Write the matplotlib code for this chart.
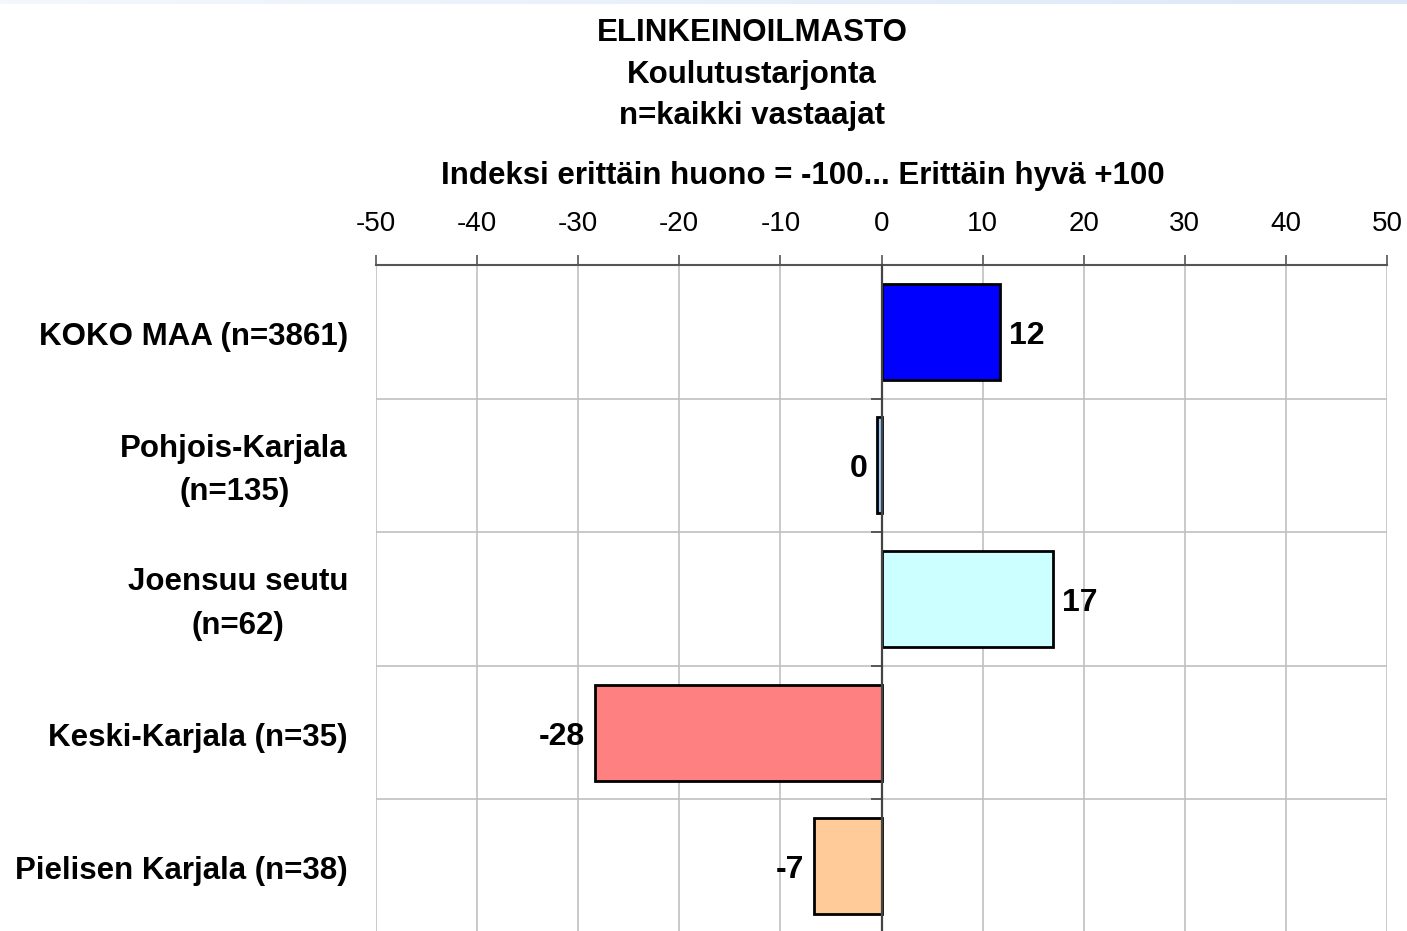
import numpy as np
import matplotlib
matplotlib.use("Agg")
import matplotlib.pyplot as plt
import matplotlib.transforms as mtransforms

plt.rcParams["font.family"] = ["Liberation Sans", "DejaVu Sans"]

# data
categories = [
    "KOKO MAA (n=3861)",
    "Pohjois-Karjala\n(n=135)",
    "Joensuu seutu\n(n=62)",
    "Keski-Karjala (n=35)",
    "Pielisen Karjala (n=38)",
]
values = [11.7, -0.4, 17.0, -28.3, -6.7]
value_labels = ["12", "0", "17", "-28", "-7"]
bar_colors = ["#0000FF", "#99CCFF", "#CCFFFF", "#FF8080", "#FFCC99"]
xticks = [-50, -40, -30, -20, -10, 0, 10, 20, 30, 40, 50]
title_lines = ["ELINKEINOILMASTO", "Koulutustarjonta", "n=kaikki vastaajat"]
axis_title = "Indeksi erittäin huono = -100... Erittäin hyvä +100"

W, H = 1407, 931
fig = plt.figure(figsize=(W / 100, H / 100), dpi=100)

# thin gradient band along the top edge
band = fig.add_axes([0, 1 - 4 / H, 1, 4 / H])
grad = np.linspace(0, 1, 256).reshape(1, -1)
band.imshow(grad, aspect="auto", cmap=matplotlib.colors.LinearSegmentedColormap.from_list(
    "band", ["#F4F8FD", "#DCE8F8"]))
band.axis("off")

ax = fig.add_axes([376 / W, -2 / H, (1387 - 376) / W, (931 - 265 + 2) / H])

y = np.arange(len(categories))
ax.barh(y, values, height=0.72, color=bar_colors, edgecolor="black", linewidth=2, zorder=3)

ax.set_xlim(-50, 50)
ax.set_ylim(len(categories) - 0.5, -0.5)

# x axis on top
ax.xaxis.tick_top()
ax.set_xticks(xticks)
ax.set_xticklabels([str(t) for t in xticks], fontsize=20)
ax.tick_params(axis="x", which="major", direction="out", length=7, width=1.2,
               color="#555555", pad=13)
ax.xaxis.grid(True, color="#C0C0C0", linewidth=1.2, zorder=0)

# category boundaries
ax.set_yticks(np.arange(len(categories) + 1) - 0.5, minor=True)
ax.set_yticks([])
ax.yaxis.grid(True, which="minor", color="#C0C0C0", linewidth=1.2, zorder=0)
ax.spines["left"].set_position(("data", 0))
ax.spines["left"].set_color("#444444")
ax.spines["left"].set_linewidth(1.6)
ax.spines["left"].set_zorder(4)
ax.tick_params(axis="y", which="minor", direction="out", length=8, width=1.2, color="#444444")
ax.spines["top"].set_color("#555555")
ax.spines["top"].set_linewidth(1.5)
ax.spines["right"].set_visible(False)
ax.spines["bottom"].set_visible(False)

# category labels at the left of the figure
trans = mtransforms.blended_transform_factory(fig.transFigure, ax.transData)
trans = mtransforms.offset_copy(trans, fig=fig, x=0, y=-5, units="dots")
for yi, cat in zip(y, categories):
    ax.text(348 / W, yi, cat, transform=trans, ha="right", va="center",
            fontsize=22.5, fontweight="bold", multialignment="center", linespacing=1.6)

# value labels
for yi, v, lab in zip(y, values, value_labels):
    off = mtransforms.offset_copy(ax.transData, fig=fig, x=(9 if v >= 0 else -10), y=-4, units="dots")
    ax.text(v, yi, lab, transform=off, ha="left" if v >= 0 else "right", va="center",
            fontsize=23, fontweight="bold", zorder=5)

fig.text(803 / W, 1 - 176 / H, axis_title, ha="center", va="center",
         fontsize=22.5, fontweight="bold")

for i, line in enumerate(title_lines):
    fig.text(752 / W, 1 - (33 + 41.5 * i) / H, line, ha="center", va="center",
             fontsize=22.5, fontweight="bold")

fig.savefig("out.png", dpi=100)
